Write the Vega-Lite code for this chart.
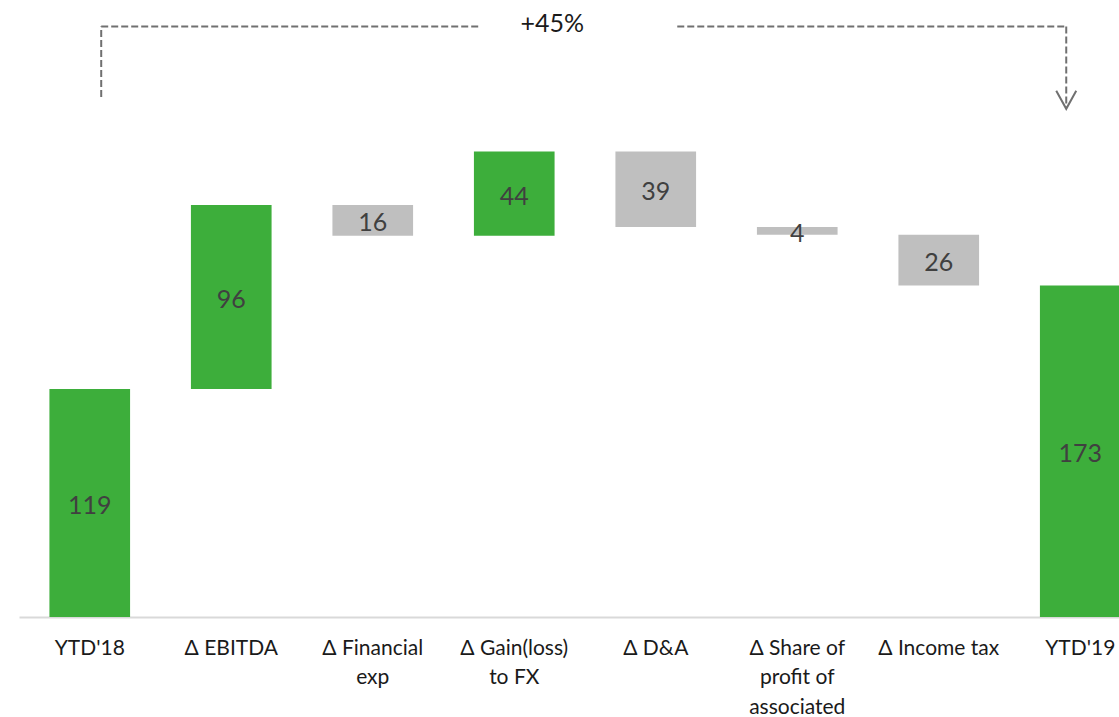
{
  "$schema": "https://vega.github.io/schema/vega-lite/v6.json",
  "width": 1132,
  "height": 617,
  "autosize": {"type": "none"},
  "padding": {"left": 19, "top": 0, "right": 0, "bottom": 100},
  "config": {
    "view": {"stroke": null},
    "font": "Lato"
  },
  "datasets": {
    "bars": [
      {"cat": "YTD'18", "start": 0, "end": 119, "value": 119, "kind": "total"},
      {"cat": "Δ EBITDA", "start": 119, "end": 215, "value": 96, "kind": "increase"},
      {"cat": "Δ Financial exp", "start": 215, "end": 199, "value": 16, "kind": "decrease"},
      {"cat": "Δ Gain(loss) to FX", "start": 199, "end": 243, "value": 44, "kind": "increase"},
      {"cat": "Δ D&A", "start": 243, "end": 203.5, "value": 39, "kind": "decrease"},
      {"cat": "Δ Share of profit of associated", "start": 203.5, "end": 199.5, "value": 4, "kind": "decrease"},
      {"cat": "Δ Income tax", "start": 199.5, "end": 173, "value": 26, "kind": "decrease"},
      {"cat": "YTD'19", "start": 0, "end": 173, "value": 173, "kind": "total"}
    ],
    "segments": [
      {"x": 0.581, "x2": 0.581, "y": 271.4, "y2": 308.2},
      {"x": 0.581, "x2": 3.246, "y": 308.2, "y2": 308.2},
      {"x": 4.652, "x2": 7.401, "y": 308.2, "y2": 308.2},
      {"x": 7.401, "x2": 7.401, "y": 308.2, "y2": 265.5}
    ],
    "arrow": [{"x": 7.401, "y": 269.9}],
    "note": [{"x": 3.769, "y": 309.5, "label": "+45%"}]
  },
  "resolve": {"scale": {"x": "independent"}, "axis": {"x": "independent"}},
  "layer": [
    {
      "data": {"name": "bars"},
      "layer": [
        {
          "mark": {"type": "bar"},
          "encoding": {
            "x": {
              "field": "cat", "type": "nominal", "sort": null,
              "scale": {"paddingInner": 0.43, "paddingOuter": 0.215},
              "axis": {
                "title": null,
                "ticks": false,
                "domainColor": "#D9D9D9",
                "domainWidth": 2,
                "labelAngle": 0,
                "labelFontSize": 21,
                "labelColor": "#1a1a1a",
                "labelPadding": 20,
                "labelLimit": 0,
                "labelOverlap": false,
                "labelBound": false,
                "labelLineHeight": 29.5,
                "labelBaseline": "top",
                "labelExpr": "datum.value == 'Δ Financial exp' ? ['Δ Financial', 'exp'] : datum.value == 'Δ Gain(loss) to FX' ? ['Δ Gain(loss)', 'to FX'] : datum.value == 'Δ Share of profit of associated' ? ['Δ Share of', 'profit of', 'associated'] : datum.label"
              }
            },
            "y": {"field": "start", "type": "quantitative", "scale": {"domain": [0, 322], "nice": false}, "axis": null},
            "y2": {"field": "end"},
            "color": {
              "field": "kind", "type": "nominal",
              "scale": {"domain": ["total", "increase", "decrease"], "range": ["#3DAE3B", "#3DAE3B", "#BFBFBF"]},
              "legend": null
            }
          }
        },
        {
          "transform": [
            {"fold": ["start", "end"], "as": ["edge", "level"]},
            {"aggregate": [{"op": "mean", "field": "level", "as": "mid"}], "groupby": ["cat", "value"]}
          ],
          "mark": {"type": "text", "fontSize": 25, "color": "#404040", "baseline": "middle", "align": "center", "dy": 3},
          "encoding": {
            "x": {"field": "cat", "type": "nominal", "sort": null},
            "y": {"field": "mid", "type": "quantitative"},
            "text": {"field": "value", "type": "quantitative"}
          }
        }
      ]
    },
    {
      "data": {"name": "segments"},
      "mark": {"type": "rule", "color": "#707070", "strokeWidth": 2, "strokeDash": [7, 3]},
      "encoding": {
        "x": {"field": "x", "type": "quantitative", "scale": {"domain": [0, 8], "nice": false, "zero": false}, "axis": null},
        "x2": {"field": "x2"},
        "y": {"field": "y", "type": "quantitative"},
        "y2": {"field": "y2"}
      }
    },
    {
      "data": {"name": "arrow"},
      "mark": {"type": "point", "shape": "M-1,-0.9L0,0.9L1,-0.9", "size": 400, "filled": false, "color": "#707070", "strokeWidth": 2, "opacity": 1},
      "encoding": {
        "x": {"field": "x", "type": "quantitative", "scale": {"domain": [0, 8], "nice": false, "zero": false}, "axis": null},
        "y": {"field": "y", "type": "quantitative"}
      }
    },
    {
      "data": {"name": "note"},
      "mark": {"type": "text", "fontSize": 25, "color": "#1a1a1a", "align": "center", "baseline": "middle"},
      "encoding": {
        "x": {"field": "x", "type": "quantitative", "scale": {"domain": [0, 8], "nice": false, "zero": false}, "axis": null},
        "y": {"field": "y", "type": "quantitative"},
        "text": {"field": "label"}
      }
    }
  ]
}
